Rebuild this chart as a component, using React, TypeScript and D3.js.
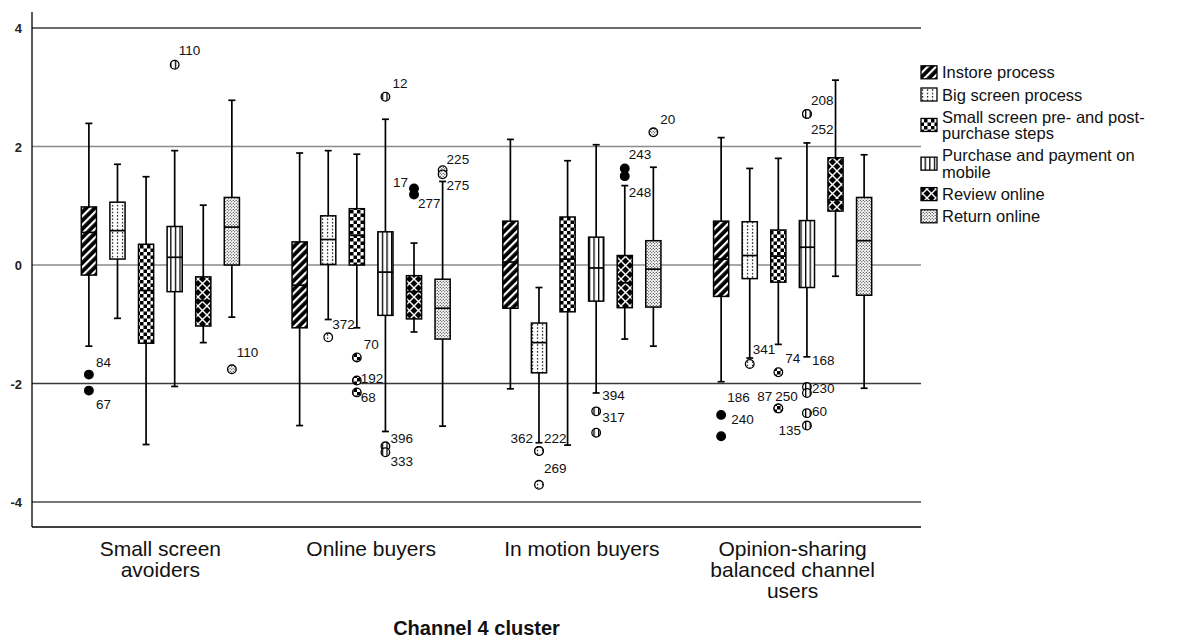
import React from "react";
import * as d3 from "d3";

// ---------- DATA ----------
const clusters = [
  "Small screen avoiders",
  "Online buyers",
  "In motion buyers",
  "Opinion-sharing balanced channel users",
];
const clusterLabelLines = [
  ["Small screen", "avoiders"],
  ["Online buyers"],
  ["In motion buyers"],
  ["Opinion-sharing", "balanced channel", "users"],
];
const series = [
  "Instore process",
  "Big screen process",
  "Small screen pre- and post-purchase steps",
  "Purchase and payment on mobile",
  "Review online",
  "Return online",
];
const legendLines = [
  ["Instore process"],
  ["Big screen process"],
  ["Small screen pre- and post-", "purchase steps"],
  ["Purchase and payment on", "mobile"],
  ["Review online"],
  ["Return online"],
];
const yTicks = [4, 2, 0, -2, -4];

// [cluster][series]
const whiskerLow = [
  [-1.37, -0.9, -3.03, -2.05, -1.31, -0.88],
  [-2.71, -0.92, -1.06, -2.81, -1.13, -2.72],
  [-2.09, -3.0, -3.04, -2.16, -1.25, -1.37],
  [-1.97, -1.57, -1.34, -1.55, -0.19, -2.08],
];
const q1 = [
  [-0.17, 0.1, -1.32, -0.45, -1.03, 0.0],
  [-1.06, 0.01, 0.0, -0.85, -0.91, -1.25],
  [-0.73, -1.82, -0.79, -0.61, -0.72, -0.71],
  [-0.53, -0.23, -0.29, -0.38, 0.91, -0.51],
];
const median = [
  [0.55, 0.58, -0.43, 0.13, -0.6, 0.64],
  [-0.34, 0.43, 0.5, -0.12, -0.45, -0.73],
  [0.05, -1.31, 0.1, -0.05, -0.3, -0.07],
  [0.1, 0.16, 0.15, 0.3, 1.1, 0.41],
];
const q3 = [
  [0.98, 1.06, 0.35, 0.65, -0.2, 1.14],
  [0.39, 0.83, 0.95, 0.56, -0.18, -0.24],
  [0.74, -0.98, 0.81, 0.47, 0.16, 0.41],
  [0.74, 0.73, 0.59, 0.75, 1.81, 1.14],
];
const whiskerHigh = [
  [2.39, 1.7, 1.49, 1.93, 1.01, 2.78],
  [1.89, 1.93, 1.87, 2.46, 0.37, 1.41],
  [2.12, -0.38, 1.76, 2.03, 1.34, 1.65],
  [2.15, 1.63, 1.8, 2.06, 3.12, 1.86],
];

// outliers: cluster index, series index, value, case label
const outCluster = [0, 0, 0, 0, 1, 1, 1, 1, 1, 1, 1, 1, 1, 1, 1, 2, 2, 2, 2, 2, 2, 2, 2, 3, 3, 3, 3, 3, 3, 3, 3, 3, 3, 3, 3];
const outSeries = [0, 0, 3, 5, 1, 2, 2, 2, 3, 3, 3, 4, 4, 5, 5, 1, 1, 1, 3, 3, 4, 4, 5, 0, 0, 1, 2, 2, 2, 3, 3, 3, 3, 3, 3];
const outValue = [
  -1.85, -2.12, 3.38, -1.76,
  -1.22, -1.56, -1.95, -2.15, 2.84, -3.06, -3.16, 1.29, 1.19, 1.6, 1.53,
  -3.14, -3.14, -3.71, -2.47, -2.83, 1.63, 1.5, 2.24,
  -2.53, -2.89, -1.67, -1.81, -2.42, -2.42, 2.55, 2.55, -2.06, -2.16, -2.5, -2.71,
];
const outLabel = [
  "84", "67", "110", "110",
  "372", "70", "192", "68", "12", "396", "333", "17", "277", "225", "275",
  "362", "222", "269", "394", "317", "243", "248", "20",
  "186", "240", "341", "74", "87", "250", "208", "252", "168", "230", "60", "135",
];

// ---------- LAYOUT (label placement offsets, not data) ----------
const labelOffset: Record<string, [number, number, string?]> = {
  "0-0-84": [7, -8], "0-0-67": [7, 18], "0-3-110": [4, -10], "0-5-110": [5, -12],
  "1-1-372": [4, -8], "1-2-70": [7, -8], "1-2-192": [4, 2], "1-2-68": [4, 10],
  "1-3-12": [7, -9], "1-3-396": [5, -3], "1-3-333": [5, 14], "1-4-17": [-6, -2, "end"],
  "1-4-277": [4, 14], "1-5-225": [4, -6], "1-5-275": [4, 16],
  "2-1-362": [-6, -8, "end"], "2-1-222": [5, -8], "2-1-269": [5, -12],
  "2-3-394": [6, -11], "2-3-317": [6, -11], "2-4-243": [4, -9], "2-4-248": [4, 21], "2-5-20": [7, -8],
  "3-0-186": [6, -13], "3-0-240": [10, -12], "3-1-341": [3, -10], "3-2-74": [7, -9],
  "3-2-87": [-6, -7, "end"], "3-2-250": [-3, -7], "3-3-208": [4, -9], "3-3-252": [4, 20],
  "3-3-168": [5, -22], "3-3-230": [5, 0], "3-3-60": [5, 3], "3-3-135": [-6, 9, "end"],
};

const W = 1179;
const H = 642;
const FONT = "'Liberation Sans', Arial, sans-serif";
const patternIds = ["pInstore", "pBig", "pSmall", "pPurchase", "pReview", "pReturn"];
const markerFills = ["#000", "url(#pBig)", "url(#pSmall)", "url(#pPurchase)", "#000", "url(#pReturn)"];
const gridColor: Record<string, string> = { "4": "#3a3a3a", "2": "#8a8a8a", "0": "#8a8a8a", "-2": "#3a3a3a", "-4": "#4a4a4a" };

export default function App() {
  const plotLeft = 32;
  const plotRight = 921;
  const y = d3.scaleLinear().domain([-4, 4]).range([502, 28]);
  const plotTop = y(4) - 16;
  const plotBottom = y(-4) + 25;
  const x = d3.scaleBand<string>().domain(clusters).range([55, 898]).paddingInner(0).paddingOuter(0);
  const xi = d3
    .scaleBand<string>()
    .domain(series)
    .range([0, x.bandwidth()])
    .paddingInner(0.47)
    .paddingOuter(0.92);
  const bw = xi.bandwidth();
  const capW = 7;

  const cx = (c: number, s: number) => (x(clusters[c]) as number) + (xi(series[s]) as number) + bw / 2;

  // legend layout
  const legX = 921;
  const legTextX = 942;
  const itemGap = 22.2;
  const lineGap = 16.5;
  let base = 78.3;
  const legendItems = legendLines.map((lines, i) => {
    const b = base;
    const lastBase = b + (lines.length - 1) * lineGap;
    base = lastBase + itemGap;
    const center = (b - 12 + lastBase) / 2;
    return { lines, b, center, i };
  });

  return (
    <svg width={W} height={H} style={{ position: "absolute", left: 0, top: 0, background: "#fff" }} fontFamily={FONT}>
      <defs>
        <pattern id="pInstore" patternUnits="userSpaceOnUse" width={6} height={6} patternTransform="rotate(45)">
          <rect width={6} height={6} fill="#000" />
          <rect x={0} width={2.2} height={6} fill="#fff" />
        </pattern>
        <pattern id="pBig" patternUnits="userSpaceOnUse" width={5} height={3.4}>
          <rect width={5} height={3.4} fill="#fff" />
          <rect x={1.9} y={1} width={1.3} height={1.3} fill="#000" />
        </pattern>
        <pattern id="pSmall" patternUnits="userSpaceOnUse" width={7} height={7}>
          <rect width={7} height={7} fill="#fff" />
          <rect x={0} y={0} width={3.5} height={3.5} fill="#000" />
          <rect x={3.5} y={3.5} width={3.5} height={3.5} fill="#000" />
        </pattern>
        <pattern id="pPurchase" patternUnits="userSpaceOnUse" width={4.6} height={4}>
          <rect width={4.6} height={4} fill="#fff" />
          <rect x={0} width={1.3} height={4} fill="#000" />
        </pattern>
        <pattern id="pReview" patternUnits="userSpaceOnUse" width={9} height={9}>
          <rect width={9} height={9} fill="#000" />
          <path d="M0,0 L9,9 M9,0 L0,9" stroke="#fff" strokeWidth={1.4} />
        </pattern>
        <pattern id="pReturn" patternUnits="userSpaceOnUse" width={3} height={3}>
          <rect width={3} height={3} fill="#fff" />
          <circle cx={0.75} cy={0.75} r={0.6} fill="#000" />
          <circle cx={2.25} cy={2.25} r={0.6} fill="#000" />
        </pattern>
      </defs>

      {/* gridlines */}
      {yTicks.map((t) => (
        <line key={t} x1={plotLeft} x2={plotRight} y1={y(t)} y2={y(t)} stroke={gridColor[String(t)]} strokeWidth={1.4} />
      ))}
      {/* axes */}
      <line x1={plotLeft} x2={plotLeft} y1={plotTop} y2={plotBottom} stroke="#000" strokeWidth={1.3} />
      <line x1={plotLeft} x2={plotRight} y1={plotBottom} y2={plotBottom} stroke="#000" strokeWidth={1.3} />
      {yTicks.map((t) => (
        <text key={"t" + t} x={22} y={y(t) + 5} textAnchor="end" fontSize={13} fontWeight="bold" fill="#222">
          {t}
        </text>
      ))}

      {/* boxes */}
      {clusters.map((cn, c) =>
        series.map((sn, s) => {
          const xc = cx(c, s);
          return (
            <g key={c + "-" + s}>
              <line x1={xc} x2={xc} y1={y(whiskerHigh[c][s])} y2={y(q3[c][s])} stroke="#000" strokeWidth={1.7} />
              <line x1={xc} x2={xc} y1={y(q1[c][s])} y2={y(whiskerLow[c][s])} stroke="#000" strokeWidth={1.7} />
              <line x1={xc - capW / 2} x2={xc + capW / 2} y1={y(whiskerHigh[c][s])} y2={y(whiskerHigh[c][s])} stroke="#000" strokeWidth={1.7} />
              <line x1={xc - capW / 2} x2={xc + capW / 2} y1={y(whiskerLow[c][s])} y2={y(whiskerLow[c][s])} stroke="#000" strokeWidth={1.7} />
              <rect
                x={xc - bw / 2}
                y={y(q3[c][s])}
                width={bw}
                height={y(q1[c][s]) - y(q3[c][s])}
                fill={`url(#${patternIds[s]})`}
                stroke="#000"
                strokeWidth={1.5}
              />
              <line x1={xc - bw / 2} x2={xc + bw / 2} y1={y(median[c][s])} y2={y(median[c][s])} stroke="#000" strokeWidth={1.7} />
            </g>
          );
        })
      )}

      {/* outliers */}
      {outValue.map((v, i) => {
        const c = outCluster[i];
        const s = outSeries[i];
        const xc = cx(c, s);
        const yc = y(v);
        const key = `${c}-${s}-${outLabel[i]}`;
        const off = labelOffset[key] || [5, -6];
        return (
          <g key={"o" + i}>
            <circle cx={xc} cy={yc} r={4.3} fill={markerFills[s]} stroke="#000" strokeWidth={1.3} />
            <text x={xc + off[0]} y={yc + off[1]} textAnchor={off[2] || "start"} fontSize={13.5} fill="#111">
              {outLabel[i]}
            </text>
          </g>
        );
      })}

      {/* x labels */}
      {clusters.map((cn, c) => {
        const xc = (x(cn) as number) + x.bandwidth() / 2;
        return (
          <text key={"x" + c} x={xc} textAnchor="middle" fontSize={21} fill="#111">
            {clusterLabelLines[c].map((ln, j) => (
              <tspan key={j} x={xc} y={556 + j * 21}>
                {ln}
              </tspan>
            ))}
          </text>
        );
      })}
      <text x={(55 + 898) / 2} y={635} textAnchor="middle" fontSize={20} fontWeight="bold" fill="#111">
        Channel 4 cluster
      </text>

      {/* legend */}
      {legendItems.map((it) => (
        <g key={"l" + it.i}>
          <rect x={legX} y={it.center - 6.5} width={16} height={13} fill={`url(#${patternIds[it.i]})`} stroke="#000" strokeWidth={1.3} />
          <text fontSize={16.5} fill="#111">
            {it.lines.map((ln, j) => (
              <tspan key={j} x={legTextX} y={it.b + j * lineGap}>
                {ln}
              </tspan>
            ))}
          </text>
        </g>
      ))}
    </svg>
  );
}
